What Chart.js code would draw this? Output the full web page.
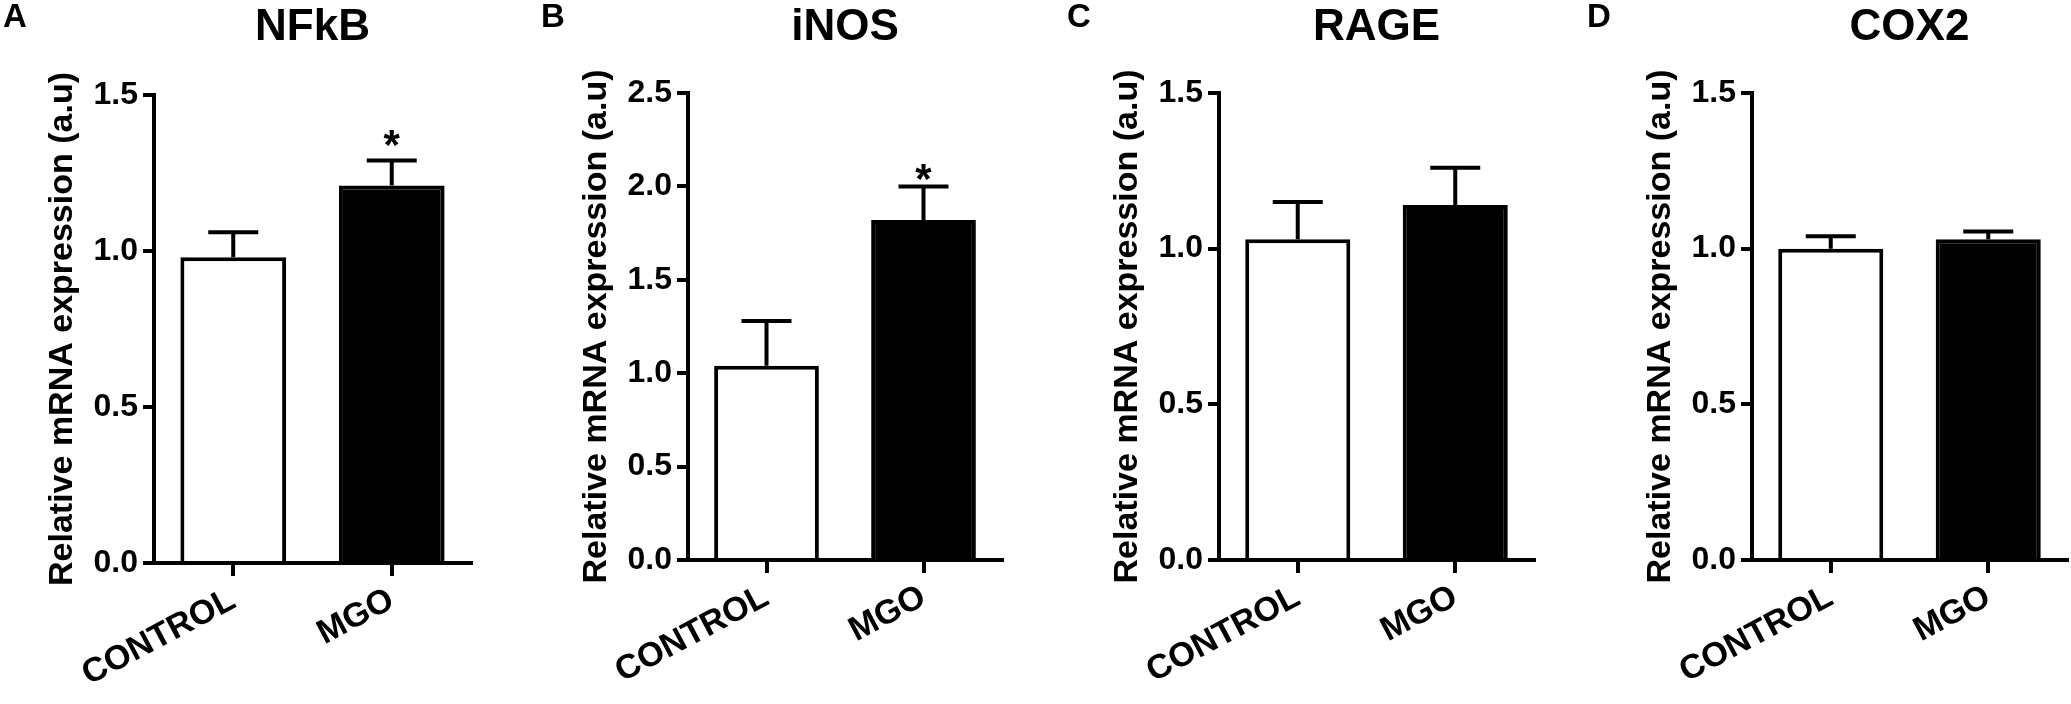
<!DOCTYPE html>
<html>
<head>
<meta charset="utf-8">
<title>mRNA expression, CONTROL vs MGO</title>
<script src="https://cdn.jsdelivr.net/npm/chart.js@4.4.1/dist/chart.umd.min.js"></script>
<style>
  body { margin: 0; background: #fff; }
  #wrap { position: relative; width: 2071px; height: 704px; overflow: hidden; }
  #wrap canvas { position: absolute; top: 0; }
</style>
</head>
<body>
<div id="wrap">
  <canvas id="panelA" width="520" height="704" style="left:0px"></canvas>
  <canvas id="panelB" width="520" height="704" style="left:520px"></canvas>
  <canvas id="panelC" width="515" height="704" style="left:1040px"></canvas>
  <canvas id="panelD" width="516" height="704" style="left:1555px"></canvas>
</div>
<script>
// Data (mean and SEM, relative units)
const groups = ['CONTROL', 'MGO'];
const genes = ['NFkB', 'iNOS', 'RAGE', 'COX2'];
const panelLetters = ['A', 'B', 'C', 'D'];
const yAxisTitle = 'Relative mRNA expression (a.u)';

const nfkbMean = [0.98, 1.21];
const nfkbSem = [0.08, 0.08];
const inosMean = [1.04, 1.82];
const inosSem = [0.24, 0.18];
const rageMean = [1.03, 1.14];
const rageSem = [0.12, 0.12];
const cox2Mean = [1.00, 1.03];
const cox2Sem = [0.04, 0.025];

const nfkbMarks = ['', '*'];
const inosMarks = ['', '*'];
const rageMarks = ['', ''];
const cox2Marks = ['', ''];

const yMax = [1.5, 2.5, 1.5, 1.5];
const yStep = 0.5;

const means = [nfkbMean, inosMean, rageMean, cox2Mean];
const sems = [nfkbSem, inosSem, rageSem, cox2Sem];
const marks = [nfkbMarks, inosMarks, rageMarks, cox2Marks];

// Plot box of each panel, in canvas pixels
const boxes = [
    { id: 'panelA', width: 520, axisX: 154, right: 471, top: 95, bottom: 563, letterX: 3, starGap: 26 },
    { id: 'panelB', width: 520, axisX: 168, right: 482, top: 93, bottom: 560, letterX: 21, starGap: 18 },
    { id: 'panelC', width: 515, axisX: 179, right: 494, top: 93, bottom: 560, letterX: 27, starGap: 20 },
    { id: 'panelD', width: 516, axisX: 197, right: 512, top: 93, bottom: 560, letterX: 32, starGap: 20 }
];

const FONT = "'Liberation Sans', Arial, sans-serif";
Chart.defaults.font.family = FONT;
Chart.defaults.color = '#000';

// Error bars (mean + SEM) and significance stars
const errorBars = {
    id: 'errorBars',
    afterDatasetsDraw(chart, args, opts) {
        const ctx = chart.ctx;
        const y = chart.scales.y;
        const meta = chart.getDatasetMeta(0);
        const data = chart.data.datasets[0].data;
        ctx.save();
        ctx.strokeStyle = '#000';
        ctx.lineWidth = 4;
        opts.sem.forEach((s, i) => {
            const bar = meta.data[i];
            const yTop = y.getPixelForValue(data[i] + s);
            ctx.beginPath();
            ctx.moveTo(bar.x, bar.y);
            ctx.lineTo(bar.x, yTop);
            ctx.moveTo(bar.x - 25, yTop);
            ctx.lineTo(bar.x + 25, yTop);
            ctx.stroke();
            if (opts.marks[i]) {
                ctx.fillStyle = '#000';
                ctx.font = 'bold 42px ' + FONT;
                ctx.textAlign = 'center';
                ctx.textBaseline = 'alphabetic';
                ctx.fillText(opts.marks[i], bar.x, yTop - opts.starGap + 0.58 * 42);
            }
        });
        ctx.restore();
    }
};

// Panel letter in the top left corner
const panelLetter = {
    id: 'panelLetter',
    afterDraw(chart, args, opts) {
        const ctx = chart.ctx;
        ctx.save();
        ctx.fillStyle = '#000';
        ctx.font = 'bold 33px ' + FONT;
        ctx.textAlign = 'left';
        ctx.textBaseline = 'middle';
        ctx.fillText(opts.text, opts.x, 18);
        ctx.restore();
    }
};

boxes.forEach((b, p) => {
    const ctx = document.getElementById(b.id).getContext('2d');
    new Chart(ctx, {
        type: 'bar',
        data: {
            labels: groups,
            datasets: [{
                data: means[p],
                backgroundColor: ['#ffffff', '#000000'],
                borderColor: '#000',
                borderWidth: 4,
                borderSkipped: 'start',
                categoryPercentage: 1,
                barPercentage: 0.667
            }]
        },
        options: {
            responsive: false,
            animation: false,
            events: [],
            layout: { padding: { left: 0, right: b.width - b.right, top: 0, bottom: 0 } },
            scales: {
                x: {
                    z: 1,
                    offset: true,
                    grid: { display: true, offset: false, drawOnChartArea: false, drawTicks: true, tickLength: 13, lineWidth: 4, color: '#000' },
                    border: { display: true, width: 4, color: '#000' },
                    ticks: {
                        autoSkip: false,
                        minRotation: 28,
                        maxRotation: 28,
                        padding: 4,
                        color: '#000',
                        font: { size: 34, weight: 'bold' }
                    },
                    afterFit(scale) { scale.height = 704 - b.bottom; }
                },
                y: {
                    z: 1,
                    min: 0,
                    max: yMax[p],
                    grid: { display: true, drawOnChartArea: false, drawTicks: true, tickLength: 11, lineWidth: 4, color: '#000' },
                    border: { display: true, width: 4, color: '#000' },
                    ticks: {
                        stepSize: yStep,
                        padding: 5,
                        color: '#000',
                        font: { size: 32, weight: 'bold' },
                        callback: v => Number(v).toFixed(1)
                    },
                    title: {
                        display: true,
                        text: yAxisTitle,
                        color: '#000',
                        font: { size: 34, weight: 'bold' },
                        padding: { top: b.axisX - 91 - 20.4, bottom: 0 }
                    },
                    afterFit(scale) { scale.width = b.axisX; }
                }
            },
            plugins: {
                legend: { display: false },
                tooltip: { enabled: false },
                title: {
                    display: true,
                    fullSize: false,
                    text: genes[p],
                    color: '#000',
                    font: { size: 44, weight: 'bold' },
                    padding: { top: 1.6, bottom: b.top - 1.6 - 52.8 }
                },
                errorBars: { sem: sems[p], marks: marks[p], starGap: b.starGap },
                panelLetter: { text: panelLetters[p], x: b.letterX }
            }
        },
        plugins: [errorBars, panelLetter]
    });
});
</script>
</body>
</html>
